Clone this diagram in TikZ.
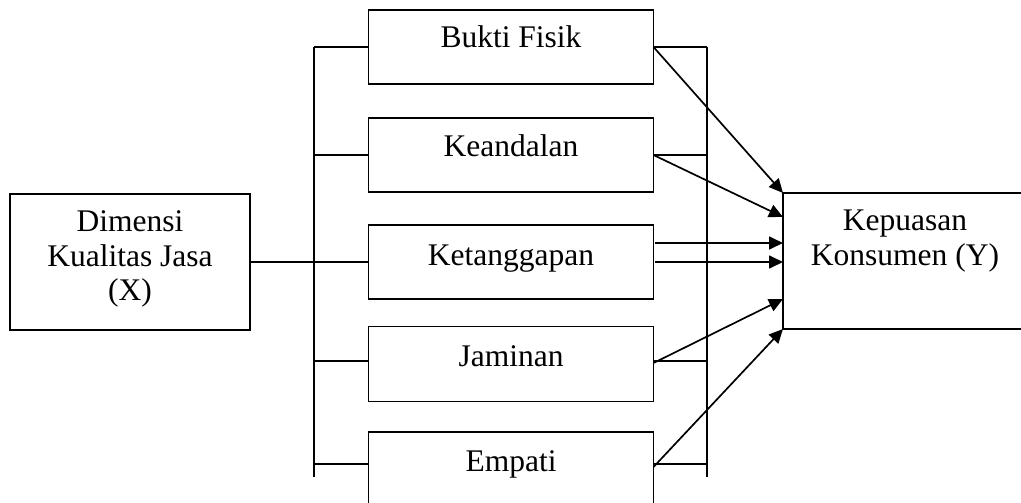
\documentclass[tikz,border=0pt]{standalone}
\usepackage{fontspec}
\setmainfont{Liberation Serif}
\usetikzlibrary{arrows.meta,calc}
\begin{document}
\begin{tikzpicture}[x=1pt,y=-1pt,
  box/.style={draw, rectangle, line width=1.7pt, inner sep=0pt, outer sep=0pt},
  lbl/.style={font=\fontsize{31.5}{34.5}\selectfont, inner sep=0pt, align=center},
  ln/.style={line width=1.7pt},
  arr/.style={line width=1.7pt, -{Triangle[length=14pt,width=13pt]}}]
\useasboundingbox (0,0) rectangle (1021,503);
\clip (0,0) rectangle (1021,503);
% boxes
\node[box, minimum width=240pt, minimum height=136pt] (X) at (130,262) {};
\node[box, minimum width=285pt, minimum height=74pt] (b1) at (511,47) {};
\node[box, minimum width=285pt, minimum height=74pt] (b2) at (511,155) {};
\node[box, minimum width=285pt, minimum height=74pt] (b3) at (511,262) {};
\node[box, minimum width=285pt, minimum height=75pt] (b4) at (511,364) {};
\node[box, minimum width=285pt, minimum height=80pt] (b5) at (511,472) {};
\node[box, minimum width=244pt, minimum height=136pt] (Y) at (905,261) {};
% labels
\node[lbl] (tX) at (130,259) {Dimensi\\Kualitas Jasa\\(X)};
\node[lbl, anchor=base] (t1) at (511,48) {Bukti Fisik};
\node[lbl, anchor=base] (t2) at (511,157) {Keandalan};
\node[lbl, anchor=base] (t3) at (511,265) {Ketanggapan};
\node[lbl, anchor=base] (t4) at (511,366) {Jaminan};
\node[lbl, anchor=base] (t5) at (511,471) {Empati};
\node[lbl] (tY) at (905,241) {Kepuasan\\Konsumen (Y)};
% bracket lines
\coordinate (Lt) at (314,47);
\coordinate (Lb) at (314,477);
\coordinate (Rt) at (707,47);
\coordinate (Rb) at (707,477);
\coordinate (w4) at (368.5,361);
\coordinate (e4) at (653.5,361);
\coordinate (a4) at (653.5,363);
\coordinate (w5) at (368.5,464);
\coordinate (e5) at (653.5,464);
\coordinate (a5) at (653.5,467);
\coordinate (k3) at (655,243);
\coordinate (k3b) at (655,262);
\coordinate (y2) at (783,217);
\coordinate (y5) at (783,299);
\draw[ln] (Lt) -- (Lb);
\draw[ln] (Rt) -- (Rb);
\draw[ln] (X.east) -- (b3.west);
\draw[ln] (b1.west -| Lt) -- (b1.west);
\draw[ln] (b2.west -| Lt) -- (b2.west);
\draw[ln] (w4 -| Lt) -- (w4);
\draw[ln] (w5 -| Lt) -- (w5);
\draw[ln] (b1.east) -- (b1.east -| Rt);
\draw[ln] (b2.east) -- (b2.east -| Rt);
\draw[ln] (e4) -- (e4 -| Rt);
\draw[ln] (e5) -- (e5 -| Rt);
% arrows
\draw[arr] (b1.east) -- (Y.north west);
\draw[arr] (b2.east) -- (y2);
\draw[arr] (k3) -- (k3 -| Y.west);
\draw[arr] (k3b) -- (k3b -| Y.west);
\draw[arr] (a4) -- (y5);
\draw[arr] (a5) -- (Y.south west);
\end{tikzpicture}
\end{document}
